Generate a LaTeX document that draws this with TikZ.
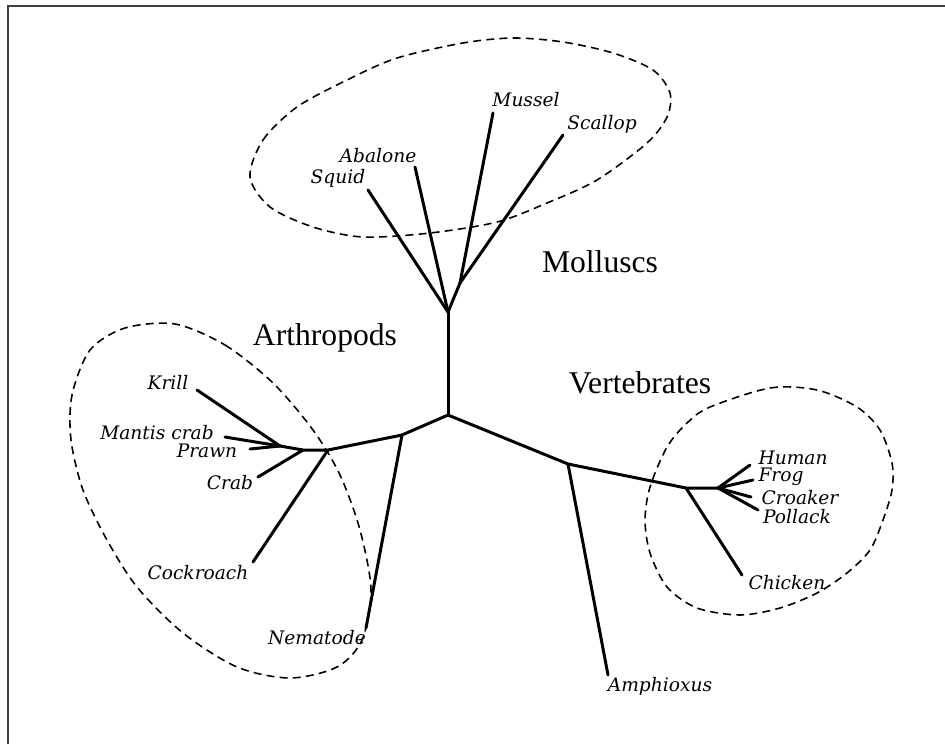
\documentclass[tikz,border=0pt]{standalone}
\usepackage{fontspec}
\setmainfont{Liberation Serif}
\newfontfamily\leaffont{DejaVu Serif}

\begin{document}
\begin{tikzpicture}[x=0.02cm,y=-0.02cm,
  branch/.style={line width=1.7pt,line cap=round},
  clade/.style={line width=0.9pt,dash pattern=on 4.5pt off 3pt},
  leaf/.style={font=\leaffont\itshape\fontsize{10.6}{12}\selectfont,inner sep=0pt},
  group/.style={font=\fontsize{18}{20}\selectfont,inner sep=0pt}]
\useasboundingbox (0,0) rectangle (945,744);
\draw[black!75,line width=1pt] (8,744)--(8,6)--(945,6);

% joints of the tree
\coordinate (root) at (448,415);
\coordinate (mfork) at (448,312);
\coordinate (msj) at (460,283);
\coordinate (a1) at (402,435);
\coordinate (a2) at (328,450);
\coordinate (a3) at (303,450);
\coordinate (a4) at (280,446);
\coordinate (v1) at (568,464);
\coordinate (v2) at (686,488);
\coordinate (v3) at (718,488);

% branch tips
\coordinate (tsquid) at (368,190);
\coordinate (tabalone) at (415,167);
\coordinate (tmussel) at (493,113);
\coordinate (tscallop) at (563,135);
\coordinate (tkrill) at (197,390);
\coordinate (tmantis) at (225,437);
\coordinate (tprawn) at (250,449);
\coordinate (tcrab) at (258,477);
\coordinate (tcockroach) at (253,562);
\coordinate (tnematode) at (366,628);
\coordinate (tamphioxus) at (608,675);
\coordinate (tchicken) at (742,575);
\coordinate (thuman) at (750,465);
\coordinate (tfrog) at (753,480);
\coordinate (tcroaker) at (751,497);
\coordinate (tpollack) at (758,510);

% labels
\node[leaf] (squid) at (338,178) {Squid};
\node[leaf] (abalone) at (378,156) {Abalone};
\node[leaf] (mussel) at (526,100) {Mussel};
\node[leaf] (scallop) at (602,124) {Scallop};
\node[leaf] (krill) at (168,382) {Krill};
\node[leaf] (mantis) at (157,433) {Mantis crab};
\node[leaf] (prawn) at (207,451) {Prawn};
\node[leaf] (crab) at (230,483) {Crab};
\node[leaf] (cockroach) at (198,573) {Cockroach};
\node[leaf] (nematode) at (317,638) {Nematode};
\node[leaf] (amphioxus) at (660,686) {Amphioxus};
\node[leaf] (chicken) at (787,583) {Chicken};
\node[leaf] (human) at (793,458) {Human};
\node[leaf] (frog) at (781,477) {Frog};
\node[leaf] (croaker) at (800,498) {Croaker};
\node[leaf] (pollack) at (797,517) {Pollack};

\node[group] (molluscs) at (600,262) {Molluscs};
\node[group] (arthropods) at (325,338) {Arthropods};
\node[group] (vertebrates) at (640,383) {Vertebrates};

% molluscs
\draw[branch] (root)--(mfork);
\draw[branch] (mfork)--(tsquid);
\draw[branch] (mfork)--(tabalone);
\draw[branch] (mfork)--(msj);
\draw[branch] (msj)--(tmussel);
\draw[branch] (msj)--(tscallop);

% arthropods
\draw[branch] (root)--(a1)--(a2)--(a3)--(a4);
\draw[branch] (a1)--(tnematode);
\draw[branch] (a2)--(tcockroach);
\draw[branch] (a3)--(tcrab);
\draw[branch] (a4)--(tkrill);
\draw[branch] (a4)--(tmantis);
\draw[branch] (a4)--(tprawn);

% vertebrates
\draw[branch] (root)--(v1)--(v2)--(v3);
\draw[branch] (v1)--(tamphioxus);
\draw[branch] (v2)--(tchicken);
\draw[branch] (v3)--(thuman);
\draw[branch] (v3)--(tfrog);
\draw[branch] (v3)--(tcroaker);
\draw[branch] (v3)--(tpollack);

% dashed groupings
\draw[clade] plot[smooth cycle] coordinates {(250,177) (263,140) (297,107) (347,80)
  (397,58) (463,43) (513,38) (563,42) (613,53) (653,70) (670,93) (667,117)
  (647,143) (597,180) (547,203) (497,222) (430,233) (363,237) (313,227) (270,207)};
\draw[clade] plot[smooth cycle] coordinates {(175,324) (225,345) (273,383) (313,430)
  (340,475) (360,530) (371,590) (362,640) (337,667) (290,678) (237,667) (183,633)
  (137,587) (107,540) (83,490) (71,440) (72,395) (90,350) (125,328)};
\draw[clade] plot[smooth cycle] coordinates {(710,407) (770,388) (817,390) (857,407)
  (880,430) (892,463) (892,490) (883,520) (870,550) (847,573) (817,593) (780,608)
  (740,615) (697,608) (667,587) (650,553) (645,520) (650,487) (667,447) (687,423)};
\end{tikzpicture}
\end{document}
